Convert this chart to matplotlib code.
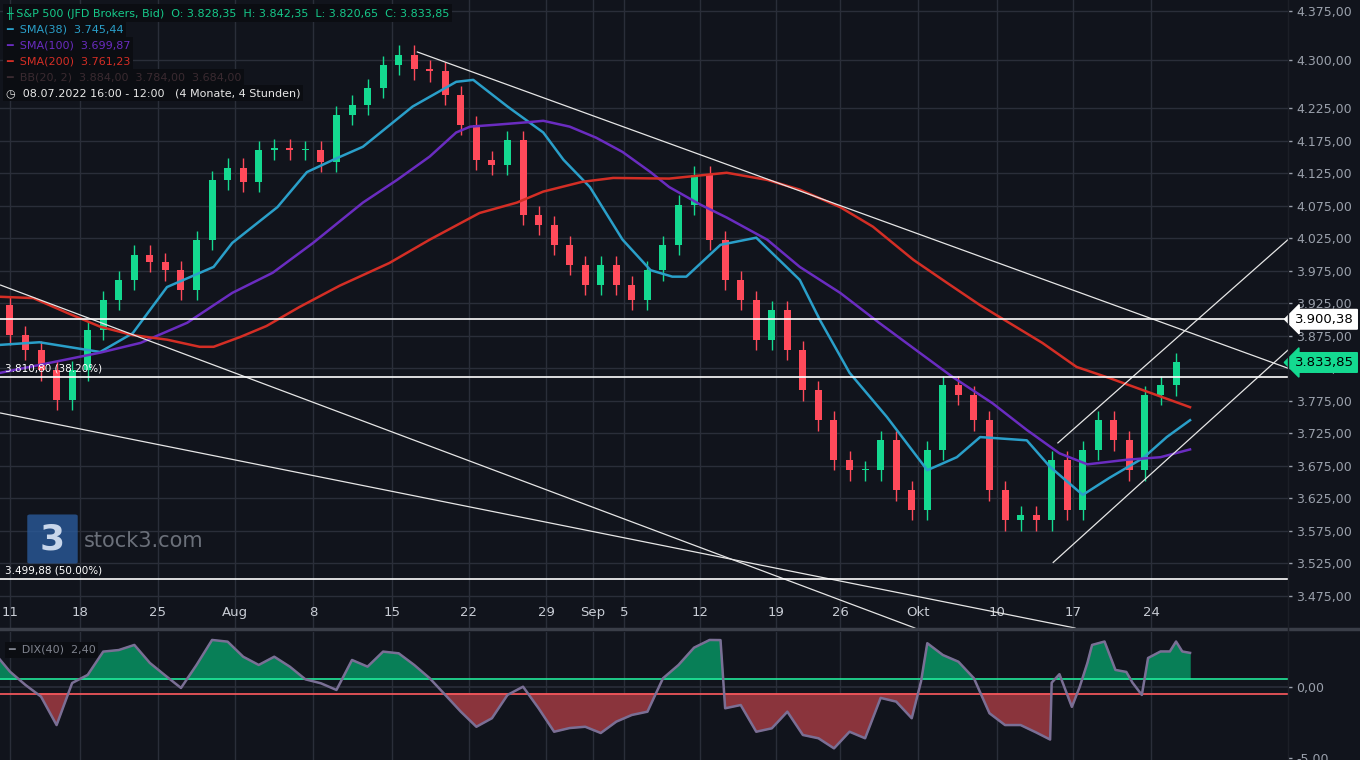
import matplotlib
matplotlib.use("Agg")
import matplotlib.pyplot as plt
import matplotlib.transforms as mtransforms
from matplotlib.patches import FancyBboxPatch
import numpy as np

BG = "#11141c"
GRID = "#2a2e39"
UP = "#14d990"
DOWN = "#ff4a5a"
TXT = "#9aa0ab"

# ── daily closes (trading-day index, 0 = 11 Jul 2022) ──
days = list(range(-1, 77))
closes = [3922, 3876, 3853, 3822, 3776, 3822, 3884, 3930, 3961, 4000,
          3989, 3976, 3946, 4023, 4115, 4134, 4112, 4161, 4164, 4161,
          4161, 4143, 4215, 4231, 4257, 4292, 4308, 4285, 4282, 4246,
          4200, 4146, 4138, 4177, 4061, 4046, 4015, 3984, 3953, 3984,
          3953, 3930, 3976, 4015, 4077, 4123, 4023, 3961, 3930, 3869,
          3915, 3853, 3791, 3745, 3684, 3668, 3668, 3714, 3637, 3607,
          3699, 3799, 3784, 3745, 3637, 3591, 3599, 3591, 3684, 3607,
          3699, 3745, 3714, 3668, 3784, 3799, 3834]

sma38_d = [-0.6, 1.9, 5.8, 7.9, 10.1, 13.1, 14.3, 17.2, 19.1, 20.8, 22.7, 25.9, 28.7, 29.8,
           32.0, 34.3, 35.6, 37.3, 39.4, 41.2, 42.6, 43.5, 45.7, 48.0, 50.8, 52.1, 54.0, 56.4,
           59.0, 60.9, 62.4, 65.4, 66.9, 69.0, 70.7, 72.9, 74.4, 75.9]
sma38_v = [3861, 3865, 3850, 3879, 3950, 3981, 4018, 4073, 4127, 4146, 4166, 4228, 4266, 4269,
           4228, 4188, 4146, 4104, 4023, 3976, 3966, 3966, 4015, 4026, 3961, 3899, 3818, 3750,
           3668, 3688, 3719, 3714, 3673, 3630, 3656, 3687, 3719, 3745]

sma100_d = [-0.6, 5.8, 8.4, 11.4, 14.3, 16.9, 19.5, 21.2, 22.7, 24.9, 27.0, 28.7, 29.6, 31.3,
            33.4, 34.3, 36.0, 37.7, 39.4, 41.2, 42.4, 44.4, 46.1, 48.7, 50.8, 53.4, 55.9, 58.5,
            60.6, 63.2, 65.4, 67.5, 69.3, 71.8, 74.0, 75.9]
sma100_v = [3818, 3849, 3864, 3895, 3941, 3972, 4018, 4051, 4080, 4115, 4151, 4188, 4197, 4200,
            4204, 4206, 4197, 4180, 4158, 4127, 4104, 4077, 4057, 4023, 3981, 3941, 3895, 3849,
            3812, 3771, 3730, 3694, 3677, 3684, 3688, 3700]

sma200_d = [-0.6, 1.5, 3.7, 5.8, 7.9, 10.1, 12.2, 13.1, 14.8, 16.5, 18.6, 21.2, 24.4, 27.0,
            30.2, 32.6, 34.3, 36.8, 38.8, 42.4, 46.1, 48.7, 50.8, 53.4, 55.5, 58.1, 60.3, 62.4,
            66.4, 68.6, 70.7, 72.9, 75.9]
sma200_v = [3935, 3933, 3910, 3889, 3876, 3869, 3858, 3858, 3873, 3890, 3919, 3952, 3987, 4023,
            4064, 4080, 4097, 4112, 4118, 4117, 4126, 4115, 4100, 4073, 4043, 3992, 3956, 3922,
            3864, 3827, 3810, 3791, 3765]

dix_d = [-0.7, 0, 1, 2, 3, 4, 5, 6, 7, 8, 9, 10, 11, 12, 13, 14, 15, 16, 17, 18, 19, 20,
         21, 22, 23, 24, 25, 26, 27, 28, 29, 30, 31, 32, 33, 34, 35, 36, 37, 38, 39, 40, 41, 42,
         43, 44, 45, 45.7, 46, 47, 48, 49, 50, 51, 52, 53, 54, 55, 56, 57, 58, 58.6, 59, 60, 61,
         62, 63, 64, 65, 66, 66.9, 67.0, 67.5, 68.3, 68.8, 69.3, 69.6, 70.4, 71.1, 71.8, 72.2,
         72.8, 73.2, 74.0, 74.6, 75.0, 75.4, 75.9]
dix_v = [2.0, 1.08, 0.14, -0.68, -2.68, 0.28, 0.85, 2.49, 2.6, 2.96, 1.69, 0.8, -0.07, 1.55,
         3.31, 3.19, 2.13, 1.55, 2.13, 1.43, 0.54, 0.26, -0.21, 1.9, 1.43, 2.49, 2.37, 1.55,
         0.61, -0.56, -1.74, -2.8, -2.2, -0.56, 0.02, -1.5, -3.15, -2.89, -2.8, -3.24, -2.44,
         -1.97, -1.74, 0.61, 1.55, 2.77, 3.31, 3.3, -1.5, -1.27, -3.15, -2.91, -1.74, -3.38,
         -3.61, -4.32, -3.15, -3.61, -0.77, -1.03, -2.2, 0.4, 3.08, 2.25, 1.78, 0.61, -1.85,
         -2.68, -2.68, -3.2, -3.7, 0.3, 0.9, -1.4, 0.0, 1.7, 2.96, 3.2, 1.2, 1.06, 0.3, -0.56,
         2.04, 2.5, 2.5, 3.2, 2.5, 2.4]

fib_levels = [3810.80, 3499.88]
fib_labels = ["3.810,80 (38.20%)", "3.499,88 (50.00%)"]
resistance = 3900.38
last_close = 3833.85

# trendlines as (day, price) pairs
trendlines = [((-0.6, 3953), (58.2, 3425)),
              ((-0.6, 3756), (68.5, 3425)),
              ((26.2, 4312), (82.2, 3825)),
              ((67.4, 3710), (82.2, 4023)),
              ((67.1, 3526), (82.2, 3853))]

tick_days = [0, 4.5, 9.5, 14.5, 19.5, 24.6, 29.5, 34.5, 37.5, 39.5, 44.4, 49.3, 53.4, 58.4,
             63.5, 68.4, 73.4]
tick_labels = ["11", "18", "25", "Aug", "8", "15", "22", "29", "Sep", "5", "12", "19", "26",
               "Okt", "10", "17", "24"]
price_ticks = [4375, 4300, 4225, 4175, 4125, 4075, 4025, 3975, 3925, 3875, 3825, 3775, 3725,
               3675, 3625, 3575, 3525, 3475]
YLO, YHI = 3425, 4392


def de(v):
    s = f"{v:,.2f}"
    return s.replace(",", "X").replace(".", ",").replace("X", ".")


fig = plt.figure(figsize=(13.6, 7.6), dpi=100, facecolor=BG)
ax = fig.add_axes([0, 1 - 628 / 760, 1288 / 1360, 628 / 760])
ax2 = fig.add_axes([0, 0, 1288 / 1360, 128 / 760])
for a in (ax, ax2):
    a.set_facecolor(BG)
    for s in a.spines.values():
        s.set_visible(False)
    a.set_xlim(-0.64, 82.2)
    for d in tick_days:
        a.axvline(d, color=GRID, lw=1, zorder=0)
    a.set_xticks([])
    a.yaxis.tick_right()
    a.tick_params(axis="y", colors=TXT, labelsize=9, length=3, width=1, color=TXT, pad=3)

ax.set_ylim(YLO, YHI)
ax.set_yticks(price_ticks)
ax.set_yticklabels([de(p) for p in price_ticks])
for p in price_ticks:
    ax.axhline(p, color=GRID, lw=1, zorder=0)

# candles
opens = [closes[0]] + closes[:-1]
for d, o, c in zip(days, opens, closes):
    col = UP if c >= o else DOWN
    ax.vlines(d, min(o, c) - 16, max(o, c) + 14, color=col, lw=1, zorder=3)
    ax.bar(d, max(abs(c - o), 2), bottom=min(o, c), width=0.45, color=col, zorder=3)

ax.plot(sma38_d, sma38_v, color="#2a9fc9", lw=1.8, zorder=4)
ax.plot(sma100_d, sma100_v, color="#6a2cc0", lw=1.8, zorder=4)
ax.plot(sma200_d, sma200_v, color="#d42e25", lw=1.8, zorder=4)

for (d0, p0), (d1, p1) in trendlines:
    ax.plot([d0, d1], [p0, p1], color="#e6e6e6", lw=0.9, zorder=5)

for lvl, lab in zip(fib_levels, fib_labels):
    ax.axhline(lvl, color="white", lw=1.2, zorder=5)
    ax.text(-0.3, lvl + 6, lab, color="white", fontsize=7.5, va="bottom", zorder=6)
ax.axhline(resistance, color="white", lw=1.2, zorder=5)

trans = mtransforms.blended_transform_factory(ax.transData, ax.transAxes)
for d, lab in zip(tick_days, tick_labels):
    ax.text(d, 0.015, lab, transform=trans, color="#c8ccd4", fontsize=9.5, ha="center", va="bottom")

# price tags
tag_trans = mtransforms.blended_transform_factory(fig.transFigure, ax.transData)
for val, fc in ((resistance, "white"), (last_close, UP)):
    ax.text(1354 / 1360, val, de(val), transform=tag_trans,
            color="black", fontsize=9.5, va="center", ha="right", zorder=10, clip_on=False,
            bbox=dict(boxstyle="larrow,pad=0.25", fc=fc, ec=fc))

# DIX panel
ax2.set_ylim(-5.14, 3.87)
ax2.set_yticks([0, -5])
ax2.set_yticklabels(["0,00", "-5,00"])
ax2.axhline(0, color=GRID, lw=1.2)
dd = np.array(dix_d)
dv = np.array(dix_v)
ax2.fill_between(dd, 0.55, dv, where=dv > 0.55, color="#087f57", interpolate=True, zorder=2)
ax2.fill_between(dd, -0.5, dv, where=dv < -0.5, color="#8a343c", interpolate=True, zorder=2)
ax2.axhline(0.55, color="#21e89a", lw=1.2, zorder=3)
ax2.axhline(-0.5, color="#ff5a5f", lw=1.2, zorder=3)
ax2.plot(dd, dv, color="#7a6f95", lw=1.8, zorder=4)
ax2.text(0.006, 0.86, "━  DIX(40)  2,40", transform=ax2.transAxes, color="#80848f", fontsize=8,
         va="center", bbox=dict(fc="#0b0d12", ec="none", pad=2))

fig.add_artist(plt.Line2D([0, 1], [1 - 629 / 760] * 2, color="#3a3e48", lw=2.5))
fig.add_artist(plt.Line2D([1288 / 1360] * 2, [0, 1], color="#1c1f27", lw=1))

# legend block
leg = [("╫ S&P 500 (JFD Brokers, Bid)  O: 3.828,35  H: 3.842,35  L: 3.820,65  C: 3.833,85", "#16c98a"),
       ("━  SMA(38)  3.745,44", "#2a9fc9"),
       ("━  SMA(100)  3.699,87", "#6a2cc0"),
       ("━  SMA(200)  3.761,23", "#d42e25"),
       ("━  BB(20, 2)  3.884,00  3.784,00  3.684,00", "#3a2a30"),
       ("◷  08.07.2022 16:00 - 12:00   (4 Monate, 4 Stunden)", "#e8e8e8")]
for i, (t, c) in enumerate(leg):
    fig.text(6 / 1360, 1 - (13 + 16 * i) / 760, t, color=c, fontsize=8, va="center",
             bbox=dict(fc="#0b0d12", ec="none", pad=2))

# watermark
fig.add_artist(FancyBboxPatch((30 / 1360, 1 - 562 / 760), 45 / 1360, 46 / 760,
                              boxstyle="round,pad=0.002", fc="#2a5a9a", ec="none", alpha=0.8))
fig.text(52 / 1360, 1 - 540 / 760, "3", color="#c8d6ea", fontsize=26, fontweight="bold",
         ha="center", va="center")
fig.text(84 / 1360, 1 - 541 / 760, "stock3.com", color="#6b707a", fontsize=15, va="center")

plt.savefig("out.png", dpi=100, facecolor=BG)
